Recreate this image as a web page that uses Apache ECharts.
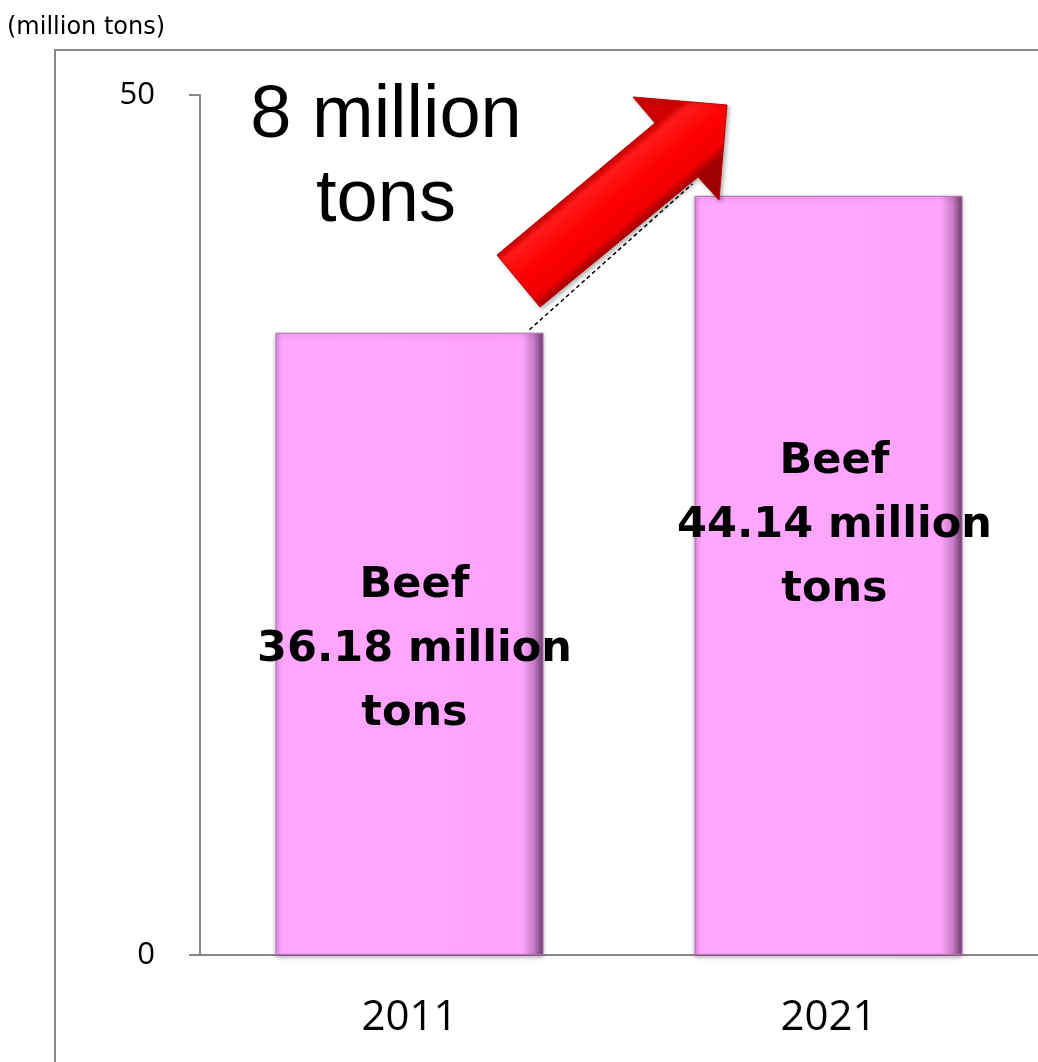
<!DOCTYPE html>
<html>
<head>
<meta charset="utf-8">
<script src="https://cdn.jsdelivr.net/npm/echarts@6/dist/echarts.min.js"></script>
<style>
  html, body { margin: 0; padding: 0; background: #fff; }
  #chart { width: 1038px; height: 1062px; }
</style>
</head>
<body>
<div id="chart"></div>
<script>
    // data
    let years = ['2011', '2021'];
    let beefValues = [36.18, 44.14];
    let yTicks = [0, 50];
    let unitText = '(million tons)';
    let growthText = '8 million\ntons';

    // label offsets inside each bar (style only)
    let labelOffsets = [[5, 6], [6, -50]];

    let myChart = echarts.init(document.getElementById('chart'));

    let barColor = {
        type: 'linear', x: 0, y: 0, x2: 1, y2: 0,
        colorStops: [
            { offset: 0, color: '#e08ee0' },
            { offset: 0.025, color: '#ffa6ff' },
            { offset: 0.92, color: '#ffa3ff' },
            { offset: 0.965, color: '#c57ac5' },
            { offset: 1, color: '#6a3a6a' }
        ]
    };

    let option = {
        animation: false,
        grid: {
            left: 200,
            top: 95,
            width: 840,
            bottom: 107
        },
        xAxis: {
            type: 'category',
            data: years,
            boundaryGap: true,
            axisLine: { lineStyle: { color: '#888', width: 2 } },
            axisTick: { length: 13, lineStyle: { color: '#888', width: 2 } },
            axisLabel: {
                margin: 42,
                fontFamily: 'Open Sans',
                fontSize: 42,
                color: '#000'
            }
        },
        yAxis: {
            type: 'value',
            min: yTicks[0],
            max: yTicks[yTicks.length - 1],
            interval: 50,
            axisLine: { show: true, lineStyle: { color: '#888', width: 2 } },
            axisTick: { show: true, length: 11, lineStyle: { color: '#888', width: 2 } },
            axisLabel: {
                margin: 45,
                fontFamily: 'Open Sans',
                fontSize: 31,
                color: '#000'
            },
            splitLine: { show: false }
        },
        series: [
            {
                name: 'Beef',
                type: 'bar',
                barWidth: 268,
                itemStyle: {
                    color: barColor,
                    borderColor: '#b070b0',
                    borderWidth: 1,
                    shadowColor: 'rgba(80,30,80,0.35)',
                    shadowBlur: 4,
                    shadowOffsetY: 2
                },
                label: {
                    show: true,
                    position: 'inside',
                    fontFamily: 'DejaVu Sans',
                    fontWeight: 'bold',
                    fontSize: 43,
                    lineHeight: 64,
                    color: '#000',
                    formatter: function (p) {
                        return 'Beef\n' + p.value.toFixed(2) + ' million\ntons';
                    }
                },
                data: beefValues.map(function (v, i) {
                    return { value: v, label: { offset: labelOffsets[i] } };
                })
            }
        ],
        graphic: [
            {
                id: 'frame',
                type: 'rect',
                z: -10,
                shape: { x: 55, y: 50, width: 1100, height: 1100 },
                style: { fill: 'none', stroke: '#888', lineWidth: 2 }
            },
            {
                id: 'unit',
                type: 'text',
                left: 7,
                top: 16,
                style: {
                    text: unitText,
                    fontFamily: 'DejaVu Sans',
                    fontSize: 24,
                    fill: '#000'
                }
            },
            {
                id: 'growth',
                type: 'text',
                x: 386,
                y: 159,
                style: {
                    text: growthText,
                    fontFamily: 'Liberation Sans',
                    fontSize: 74,
                    lineHeight: 84,
                    align: 'center',
                    verticalAlign: 'middle',
                    fill: '#000'
                }
            },
            {
                // red arrow
                id: 'arrow',
                type: 'polygon',
                z: 20,
                shape: {
                    points: [[497, 255], [655, 123], [633, 97], [727, 105], [719, 200], [698, 177], [540, 307]]
                },
                style: {
                    fill: {
                        type: 'linear', x: 497, y: 255, x2: 540, y2: 307, global: true,
                        colorStops: [
                            { offset: 0, color: '#d00000' },
                            { offset: 0.12, color: '#ff1a1a' },
                            { offset: 0.5, color: '#ff0000' },
                            { offset: 0.85, color: '#f00000' },
                            { offset: 1, color: '#a00000' }
                        ]
                    },
                    stroke: '#c00000',
                    lineWidth: 1,
                    shadowColor: 'rgba(0,0,0,0.3)',
                    shadowBlur: 4,
                    shadowOffsetX: 2,
                    shadowOffsetY: 2
                }
            }
        ]
    };

    myChart.setOption(option);

    // dashed connector between the two bar tops
    let half = 134;
    let p0 = myChart.convertToPixel({ seriesIndex: 0 }, [0, beefValues[0]]);
    let p1 = myChart.convertToPixel({ seriesIndex: 0 }, [1, beefValues[1]]);
    myChart.setOption({
        graphic: [
            {
                id: 'connector',
                type: 'line',
                z: 15,
                shape: { x1: p0[0] + half - 14, y1: p0[1] - 3, x2: p1[0] - half - 2, y2: p1[1] - 12 },
                style: { stroke: '#000', lineWidth: 1.5, lineDash: [4, 3] }
            }
        ]
    });
</script>
</body>
</html>
